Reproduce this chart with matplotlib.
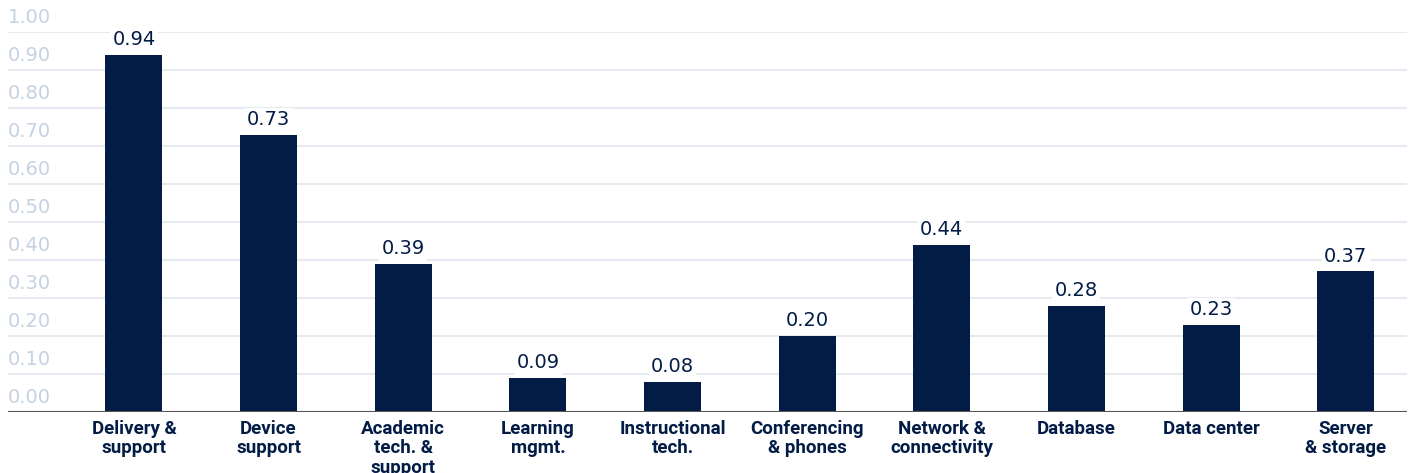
import matplotlib
matplotlib.use("Agg")
import matplotlib.pyplot as plt

categories = ["Delivery &\nsupport", "Device\nsupport", "Academic\ntech. &\nsupport",
              "Learning\nmgmt.", "Instructional\ntech.", "Conferencing\n& phones",
              "Network &\nconnectivity", "Database", "Data center", "Server\n& storage"]
values = [0.94, 0.73, 0.39, 0.09, 0.08, 0.20, 0.44, 0.28, 0.23, 0.37]
yticks = [0.0, 0.1, 0.2, 0.3, 0.4, 0.5, 0.6, 0.7, 0.8, 0.9, 1.0]

navy = "#031c45"
W, H = 1413, 473
fig = plt.figure(figsize=(W / 100, H / 100), dpi=100)
plt.rcParams["font.family"] = ["DejaVu Sans"]

# axes spans the gridline width; y 0 at 412px, 1.0 at 32px from top
ax = fig.add_axes([8 / W, (H - 412) / H, 1399 / W, 380 / H])
ax.set_xlim(-0.935, 9.455)
ax.set_ylim(0, 1.0)
ax.axis("off")

for t in yticks[1:]:
    ax.axhline(t, color="#e7eaf1", lw=1.5, zorder=0)
ax.axhline(0, color="#555555", lw=1.5, zorder=3)

for t in yticks:
    ax.text(0, t + 0.037, f"{t:.2f}", transform=ax.get_yaxis_transform(),
            ha="left", va="center", fontsize=14, color="#c6d2e2")

x = list(range(len(categories)))
ax.bar(x, values, width=0.423, color=navy, zorder=2)

for xi, v in zip(x, values):
    ax.annotate(f"{v:.2f}", (xi, v), xytext=(0, 4), textcoords="offset points",
                ha="center", va="bottom", fontsize=14, color=navy, zorder=4,
                bbox=dict(boxstyle="square,pad=0.12", fc="white", ec="none"))

for xi, c in zip(x, categories):
    ax.annotate(c, (xi, 0), xytext=(0, -6), textcoords="offset points",
                ha="center", va="top", fontsize=13.5, fontweight="bold",
                family=["Roboto", "DejaVu Sans"],
                color=navy, linespacing=1.08, annotation_clip=False)

fig.savefig("out.png", dpi=100)
